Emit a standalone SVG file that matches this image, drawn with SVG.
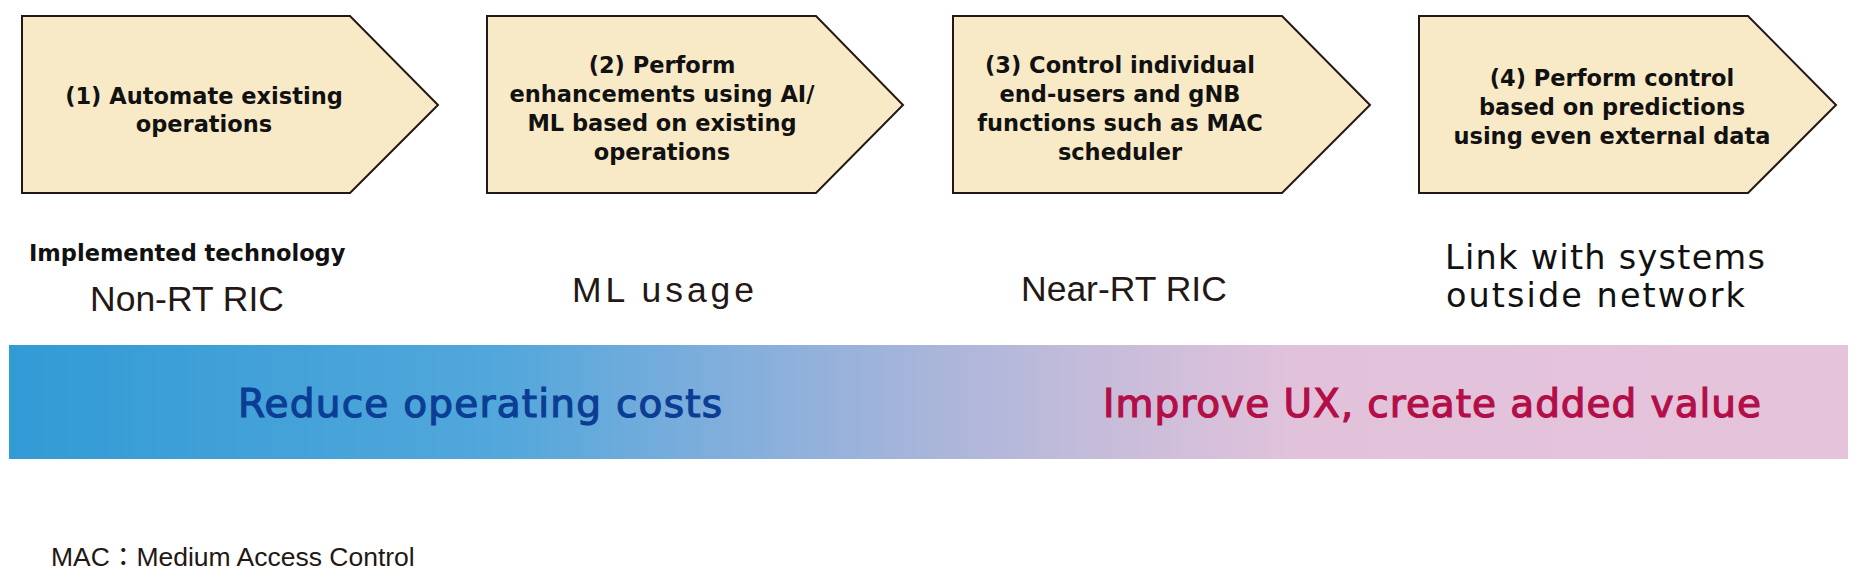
<svg xmlns="http://www.w3.org/2000/svg" width="1864" height="582" viewBox="0 0 1864 582">
  <defs>
    <linearGradient id="barGrad" gradientUnits="userSpaceOnUse" x1="9" y1="0" x2="1848" y2="0">
      <stop offset="0" stop-color="#329BD5"/>
      <stop offset="0.267" stop-color="#52A7DB"/>
      <stop offset="0.387" stop-color="#80AEDC"/>
      <stop offset="0.502" stop-color="#A9B5DA"/>
      <stop offset="0.588" stop-color="#C4BCDA"/>
      <stop offset="0.702" stop-color="#E2C2DB"/>
      <stop offset="1" stop-color="#E5C3DB"/>
    </linearGradient>
    <style>
      .step { fill: #F9EAC7; stroke: #231815; stroke-width: 2; stroke-linejoin: miter; }
      .stepText { font-family: "DejaVu Sans", "Liberation Sans", sans-serif; font-weight: bold; font-size: 22.5px; fill: #111111; text-anchor: middle; }
      .small { font-family: "DejaVu Sans", "Liberation Sans", sans-serif; font-weight: bold; font-size: 22.5px; fill: #111111; }
      .tech { font-family: "Liberation Sans", Arial, sans-serif; font-size: 35.5px; fill: #231815; }
      .tech2 { font-family: "DejaVu Sans", "Liberation Sans", sans-serif; font-size: 33.5px; fill: #111111; }
      .barText { font-family: "DejaVu Sans", "Liberation Sans", sans-serif; font-size: 39px; stroke-width: 1.2; }
      .note { font-family: "Liberation Sans", "Noto Sans CJK JP", sans-serif; font-size: 26.5px; fill: #231815; }
    </style>
  </defs>
  <rect width="1864" height="582" fill="#FFFFFF"/>

  <g id="step1">
    <polygon class="step" points="22,16 350,16 438,105 350,193 22,193"/>
    <text class="stepText" x="204" y="104">(1) Automate existing</text>
    <text class="stepText" x="204" y="132">operations</text>
  </g>

  <g id="step2">
    <polygon class="step" points="487,16 816,16 903,105 816,193 487,193"/>
    <text class="stepText" x="662" y="73">(2) Perform</text>
    <text class="stepText" x="662" y="102">enhancements using AI/</text>
    <text class="stepText" x="662" y="131">ML based on existing</text>
    <text class="stepText" x="662" y="160">operations</text>
  </g>

  <g id="step3">
    <polygon class="step" points="953,16 1282,16 1370,105 1282,193 953,193"/>
    <text class="stepText" x="1120" y="73">(3) Control individual</text>
    <text class="stepText" x="1120" y="102">end-users and gNB</text>
    <text class="stepText" x="1120" y="131">functions such as MAC</text>
    <text class="stepText" x="1120" y="160">scheduler</text>
  </g>

  <g id="step4">
    <polygon class="step" points="1419,16 1748,16 1836,105 1748,193 1419,193"/>
    <text class="stepText" x="1612" y="86">(4) Perform control</text>
    <text class="stepText" x="1612" y="115">based on predictions</text>
    <text class="stepText" x="1612" y="144">using even external data</text>
  </g>

  <g id="tech-labels">
    <text class="small" x="29" y="261">Implemented technology</text>
    <text class="tech" x="90" y="311">Non-RT RIC</text>
    <text class="tech" x="572" y="302" font-size="40.5" textLength="182">ML usage</text>
    <text class="tech" x="1021" y="301">Near-RT RIC</text>
    <text class="tech2" x="1445" y="269" textLength="320">Link with systems</text>
    <text class="tech2" x="1446" y="307" textLength="299">outside network</text>
  </g>

  <g id="value-bar">
    <rect x="9" y="345" width="1839" height="114" fill="url(#barGrad)"/>
    <text class="barText" x="238" y="417" fill="#0B3D94" stroke="#0B3D94" textLength="484">Reduce operating costs</text>
    <text class="barText" x="1103" y="417" fill="#B30E47" stroke="#B30E47" textLength="658">Improve UX, create added value</text>
  </g>

  <g id="connectors"/>

  <g id="footnote">
    <text class="note" x="51" y="566">MAC：Medium Access Control</text>
  </g>
</svg>
